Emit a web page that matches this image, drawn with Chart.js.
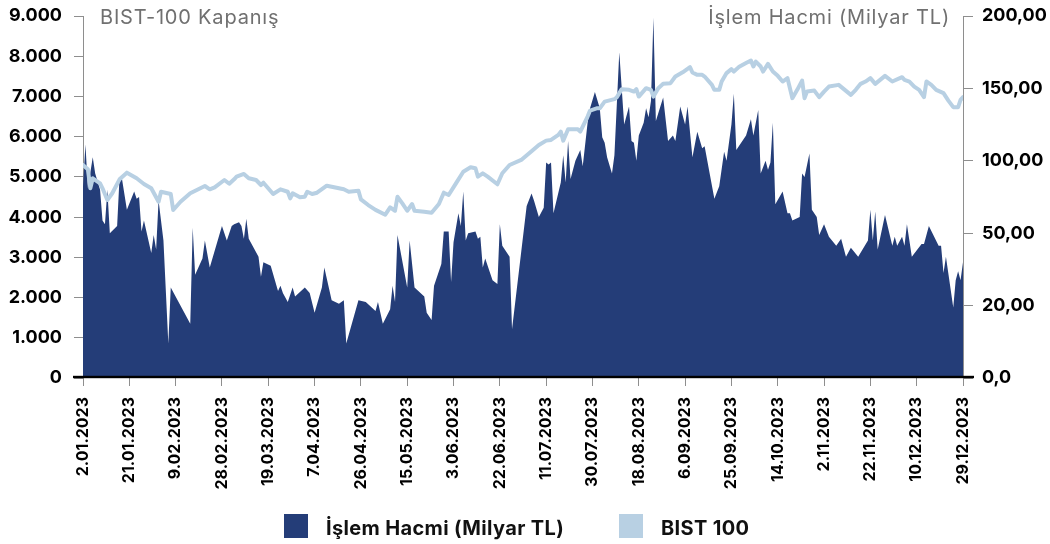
<!DOCTYPE html>
<html>
<head>
<meta charset="utf-8">
<script src="https://cdn.jsdelivr.net/npm/chart.js@4/dist/chart.umd.min.js"></script>
<style>
  html, body { margin: 0; padding: 0; background: #ffffff; }
  #wrap { position: relative; width: 1050px; height: 544px; }
  canvas { display: block; }
</style>
</head>
<body>
<div id="wrap"><canvas id="c" width="1050" height="544"></canvas></div>
<script>
// ---- Data (days counted from 02.01.2023) ----
const volDays = [0,1,2,4,5,7,8,9,10,11,14,15,16,18,21,22,23,24,25,28,29,30,31,33,35,36,44,45,46,49,50,52,57,59,61,62,64,65,66,67,68,72,73,74,77,80,81,82,84,86,87,91,93,95,98,99,100,102,105,107,108,113,116,120,121,123,126,127,128,129,133,134,136,140,141,143,144,147,148,150,151,152,154,155,156,157,158,161,162,163,164,165,168,170,171,172,175,176,182,184,185,187,189,190,191,192,193,196,197,198,199,200,202,204,205,207,208,210,212,213,214,215,217,218,220,222,224,225,226,227,228,230,231,232,233,234,235,238,240,242,243,245,247,248,250,252,254,255,259,261,263,264,266,267,268,270,272,274,275,277,278,280,281,282,283,284,287,289,290,291,294,295,296,298,299,301,302,304,306,309,311,313,315,318,322,323,324,325,326,329,332,333,334,336,337,338,340,344,345,347,351,352,353,354,357,358,359,360,361];
const volValues = [106,129,105,122,113,104,87,85,104,80,84,111,110,93,103,99,100,81,87,69,79,71,98,76,19,50,30,83,57,66,76,61,84,76,84,85,86,84,77,88,77,67,56,64,62,48,51,47,42,50,45,50,47,36,50,61,55,43,41,43,19,43,42,37,42,30,38,51,42,79,50,76,50,45,36,32,51,63,81,81,53,75,91,84,103,76,80,81,77,78,61,66,54,52,85,73,67,27,95,102,98,89,94,119,118,119,91,108,123,108,131,110,120,126,117,141,149,158,149,133,130,122,113,123,180,140,150,131,130,120,134,141,149,144,153,199,142,155,131,134,131,150,140,150,122,136,127,128,99,106,125,120,140,157,126,130,134,143,134,148,113,120,115,119,141,96,103,91,91,87,89,113,111,124,93,89,79,85,78,73,77,67,72,67,76,93,76,92,71,90,73,78,73,78,73,85,67,74,74,84,73,73,58,67,39,54,59,54,64];

const bistDays = [0,2,3,4,7,8,10,12,15,18,22,25,28,31,32,36,37,40,44,50,52,54,58,60,62,63,66,68,71,73,74,78,81,84,85,86,89,91,92,94,96,100,103,107,109,113,114,117,120,124,126,128,129,131,133,135,136,140,143,146,148,150,153,156,159,161,162,164,166,170,172,175,180,184,187,190,192,195,196,197,199,203,204,207,208,211,212,214,218,219,220,221,224,226,227,228,231,233,234,236,238,241,243,246,249,250,252,254,255,258,259,261,262,264,266,267,269,272,274,275,276,278,279,281,283,285,287,289,290,291,293,295,296,297,300,302,304,306,310,315,317,319,321,323,325,329,332,336,337,339,341,343,345,346,348,350,353,355,357,359,360,361];
const bistValues = [5296,5189,4716,4965,4840,4716,4425,4592,4940,5105,4965,4823,4716,4382,4631,4574,4176,4382,4592,4773,4691,4741,4923,4830,4940,5005,5072,4965,4923,4798,4856,4574,4691,4631,4467,4592,4492,4507,4631,4574,4607,4781,4741,4691,4631,4656,4442,4300,4180,4060,4243,4158,4507,4342,4158,4325,4158,4134,4109,4325,4607,4549,4840,5129,5239,5214,5005,5090,5005,4816,5090,5296,5430,5640,5794,5902,5919,6043,6125,5902,6185,6185,6125,6499,6648,6708,6708,6872,6932,6982,7082,7181,7164,7121,7181,6997,7206,7164,6997,7206,7313,7330,7495,7600,7729,7595,7537,7537,7495,7288,7164,7164,7371,7580,7679,7619,7729,7829,7893,7744,7868,7744,7619,7811,7619,7512,7371,7455,7206,6957,7164,7395,6957,7121,7146,6982,7121,7246,7288,7039,7164,7313,7371,7455,7313,7512,7371,7479,7413,7371,7246,7164,6982,7371,7288,7164,7082,6897,6733,6733,6915,6982];

// ---- Tick labels ----
const xTickDays = [0,19,38,57,76,95,114,133,152,171,190,209,228,247,266,285,304,323,342,361];
const xTickLabels = ["2.01.2023","21.01.2023","9.02.2023","28.02.2023","19.03.2023","7.04.2023","26.04.2023","15.05.2023","3.06.2023","22.06.2023","11.07.2023","30.07.2023","18.08.2023","6.09.2023","25.09.2023","14.10.2023","2.11.2023","22.11.2023","10.12.2023","29.12.2023"];
const leftTickLabels = ["0","1.000","2.000","3.000","4.000","5.000","6.000","7.000","8.000","9.000"];
const rightTickValues = [0,40,80,120,160,200];
const rightTickLabels = ["0,0","20,00","50,00","100,00","150,00","200,00"];

const seriesNames = ["İşlem Hacmi (Milyar TL)", "BIST 100"];
const leftTitle = "BIST-100 Kapanış";
const rightTitle = "İşlem Hacmi (Milyar TL)";

const NAVY = "#243d78";
const LIGHT = "#b8d0e3";
const AXISGRAY = "#8e8e8e";
const FONT = "Inter, 'Open Sans', sans-serif";

const volData = volDays.map((d, i) => ({ x: d, y: volValues[i] }));
const bistData = bistDays.map((d, i) => ({ x: d, y: bistValues[i] }));

const decorPlugin = {
  id: 'decor',
  afterDraw(chart) {
    const ctx = chart.ctx;
    const a = chart.chartArea;
    ctx.save();
    // thick black category axis line
    ctx.fillStyle = "#000";
    ctx.fillRect(a.left - 10, a.bottom - 2.2, (a.right - a.left) + 21, 2.4);
    // titles
    ctx.fillStyle = "#707070";
    ctx.font = "400 20px " + FONT;
    ctx.letterSpacing = "0.8px";
    ctx.textBaseline = "alphabetic";
    ctx.textAlign = "left";
    ctx.fillText(leftTitle, 100, 24);
    ctx.textAlign = "right";
    ctx.fillText(rightTitle, 950, 24);
    // legend
    const items = [
      { x: 284, color: NAVY, text: seriesNames[0] },
      { x: 619, color: LIGHT, text: seriesNames[1] }
    ];
    ctx.textAlign = "left";
    ctx.font = "700 20px " + FONT;
    ctx.letterSpacing = "0.35px";
    items.forEach(it => {
      ctx.fillStyle = it.color;
      ctx.fillRect(it.x, 514, 24, 24);
      ctx.fillStyle = "#111";
      ctx.fillText(it.text, it.x + 42, 535);
    });
    ctx.restore();
  }
};

const noPad = s => { s.paddingTop = 0; s.paddingBottom = 0; };

new Chart(document.getElementById('c'), {
  type: 'line',
  data: {
    datasets: [
      {
        label: seriesNames[0],
        data: volData,
        yAxisID: 'y2',
        borderWidth: 0,
        borderColor: NAVY,
        backgroundColor: NAVY,
        fill: 'origin',
        pointRadius: 0,
        tension: 0,
        order: 2
      },
      {
        label: seriesNames[1],
        data: bistData,
        yAxisID: 'y',
        borderColor: LIGHT,
        backgroundColor: LIGHT,
        borderWidth: 4,
        borderJoinStyle: 'round',
        borderCapStyle: 'round',
        fill: false,
        pointRadius: 0,
        tension: 0,
        order: 1
      }
    ]
  },
  options: {
    responsive: false,
    animation: false,
    devicePixelRatio: 1,
    layout: { padding: { top: 16, left: 0, right: 0, bottom: 0 } },
    plugins: { legend: { display: false }, tooltip: { enabled: false } },
    scales: {
      x: {
        type: 'linear',
        min: 0, max: 361,
        afterBuildTicks: s => { s.ticks = xTickDays.map(v => ({ value: v })); },
        afterFit: s => { s.height = 166; },
        grid: { drawOnChartArea: false, drawTicks: true, tickLength: 8, color: AXISGRAY, lineWidth: 1 },
        border: { display: false },
        ticks: {
          autoSkip: false, maxRotation: 90, minRotation: 90, padding: 11,
          color: "#000", font: { family: FONT, size: 16, weight: '700' },
          callback: (v, i) => xTickLabels[i]
        }
      },
      y: {
        position: 'left',
        min: 0, max: 9000,
        ticks: {
          stepSize: 1000, padding: 12, color: "#000",
          font: { family: FONT, size: 18, weight: '700' },
          callback: (v, i) => leftTickLabels[i]
        },
        afterFit: s => { s.width = 83; noPad(s); },
        grid: { drawOnChartArea: false, drawTicks: true, tickLength: 9, color: AXISGRAY, lineWidth: 1 },
        border: { display: true, color: AXISGRAY, width: 1 }
      },
      y2: {
        position: 'right',
        min: 0, max: 200,
        afterBuildTicks: s => { s.ticks = rightTickValues.map(v => ({ value: v })); },
        ticks: {
          padding: 9, color: "#000",
          font: { family: FONT, size: 18, weight: '700' },
          callback: (v, i) => rightTickLabels[i]
        },
        afterFit: s => { s.width = 87; noPad(s); },
        grid: { drawOnChartArea: false, drawTicks: true, tickLength: 10, color: AXISGRAY, lineWidth: 1 },
        border: { display: true, color: AXISGRAY, width: 1 }
      }
    }
  },
  plugins: [decorPlugin]
});
</script>
</body>
</html>
